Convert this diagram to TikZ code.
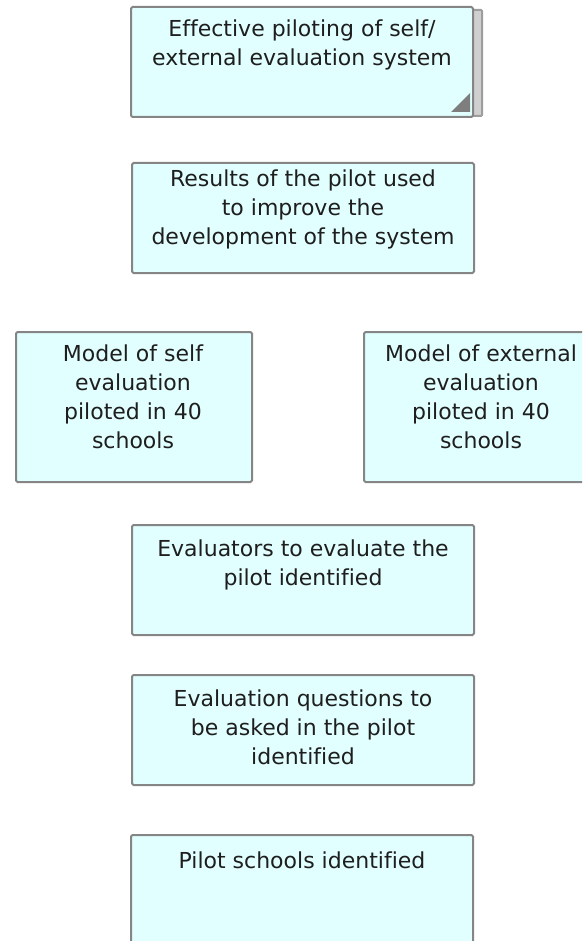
\documentclass[tikz,border=0pt]{standalone}
\usepackage{fontspec}
\setmainfont{DejaVu Sans}[Ligatures=NoCommon]
\definecolor{boxfill}{HTML}{E2FFFF}
\definecolor{boxline}{HTML}{858585}
\definecolor{sheetfill}{HTML}{CFCFCF}
\definecolor{txt}{HTML}{1E1E1E}
\begin{document}
\begin{tikzpicture}[x=1pt,y=-1pt,
  box/.style={draw=boxline, fill=boxfill, line width=2pt, rounded corners=1.5pt,
    anchor=north west, outer sep=0pt, inner sep=0pt},
  sheet/.style={draw=boxline!80, fill=sheetfill, line width=2pt, rounded corners=1pt,
    anchor=north west, outer sep=0pt, inner sep=0pt},
  lbl/.style={anchor=north, align=center, inner sep=0pt, text=txt,
    font=\fontsize{22}{29}\selectfont, execute at begin node=\strut}]
\useasboundingbox (0,0) rectangle (582,941);
\clip (0,0) rectangle (582,941);

% Box 1 with stacked sheet
\node[sheet, minimum width=342pt, minimum height=106pt] (b1back) at (140,10) {};
\node[box, minimum width=342pt, minimum height=110pt] (b1) at (131,7) {};
\fill[boxline!95!black] ([shift={(-22,-5)}]b1.south east) -- ([shift={(-3,-5)}]b1.south east)
  -- ([shift={(-3,-24)}]b1.south east) -- cycle;
\node[lbl] (t1) at (302,19.7) {Effective piloting of self/\\external evaluation system};

% Box 2
\node[box, minimum width=342pt, minimum height=110pt] (b2) at (132,163) {};
\node[lbl] (t2) at (303,169.7) {Results of the pilot used\\to improve the\\development of the system};

% Box 3 (left)
\node[box, minimum width=236pt, minimum height=150pt] (b3) at (16,332) {};
\node[lbl] (t3) at (133,344.7) {Model of self\\evaluation\\piloted in 40\\schools};

% Box 4 (right)
\node[box, minimum width=236pt, minimum height=150pt] (b4) at (364,332) {};
\node[lbl] (t4) at (481,344.7) {Model of external\\evaluation\\piloted in 40\\schools};

% Box 5
\node[box, minimum width=342pt, minimum height=110pt] (b5) at (132,525) {};
\node[lbl] (t5) at (303,539.7) {Evaluators to evaluate the\\pilot identified};

% Box 6
\node[box, minimum width=342pt, minimum height=110pt] (b6) at (132,675) {};
\node[lbl] (t6) at (303,689.7) {Evaluation questions to\\be asked in the pilot\\identified};

% Box 7
\node[box, minimum width=342pt, minimum height=130pt] (b7) at (131,835) {};
\node[lbl] (t7) at (302,847.7) {Pilot schools identified};
\end{tikzpicture}
\end{document}
